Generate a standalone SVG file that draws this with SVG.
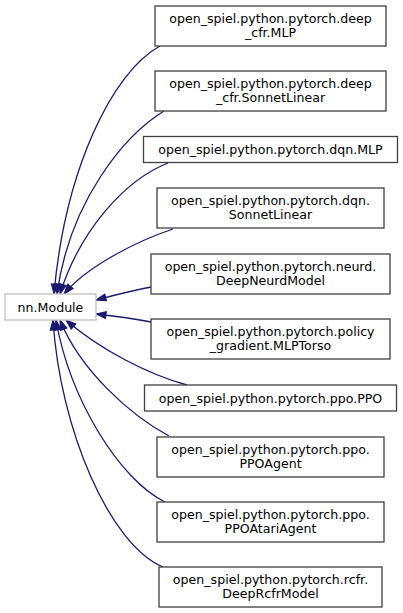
<svg xmlns="http://www.w3.org/2000/svg" width="403" height="613" viewBox="0 0 403 613">
<style>
.n rect{fill:#ffffff;stroke:#404040;stroke-width:1.3}
#nnModule rect{stroke:#bfbfbf}
text{font-family:"DejaVu Sans","Liberation Sans",sans-serif;font-size:12.6px;fill:#000000;text-anchor:middle}
#edges path{fill:none;stroke:#191970;stroke-width:1.3;marker-end:url(#ah)}
</style>
<defs>
<marker id="ah" markerUnits="userSpaceOnUse" markerWidth="12" markerHeight="9" refX="11" refY="4.5" orient="auto">
<path d="M1,1 L11,4.5 L1,8 z" fill="#191970" stroke="#191970" stroke-width="1"/>
</marker>
</defs>
<rect width="403" height="613" fill="#ffffff"/>
<g id="edges">
<path d="M160,46 C112,72 65,170 54,294"/>
<path d="M164,111 C125,135 70,200 57,294"/>
<path d="M168,163 C125,180 80,230 60,294"/>
<path d="M173,229 C140,240 88,265 64,294"/>
<path d="M151,287 C130,291 115,295 96,300"/>
<path d="M151,322 C130,318 115,316 96,314"/>
<path d="M187,385 C150,375 100,350 66,320"/>
<path d="M169,436 C130,415 80,370 60,320"/>
<path d="M165,502 C120,480 70,400 56,320"/>
<path d="M163,567 C110,545 60,430 53,320"/>
</g>
<g id="nnModule" class="n"><rect x="5" y="294" width="91" height="26"/><text x="50.5" y="311.5">nn.Module</text></g>
<g id="deepcfrMLP" class="n"><rect x="155" y="6" width="231" height="40"/><text x="270.5" y="22.5">open_spiel.python.pytorch.deep</text><text x="270.5" y="37">_cfr.MLP</text></g>
<g id="deepcfrSonnetLinear" class="n"><rect x="155" y="71" width="231" height="40"/><text x="270.5" y="87.5">open_spiel.python.pytorch.deep</text><text x="270.5" y="102">_cfr.SonnetLinear</text></g>
<g id="dqnMLP" class="n"><rect x="143.5" y="136.5" width="254" height="26"/><text x="270.5" y="154">open_spiel.python.pytorch.dqn.MLP</text></g>
<g id="dqnSonnetLinear" class="n"><rect x="157" y="188" width="227" height="40"/><text x="270.5" y="204.5">open_spiel.python.pytorch.dqn.</text><text x="270.5" y="219">SonnetLinear</text></g>
<g id="neurdDeepNeurdModel" class="n"><rect x="151" y="254" width="239" height="40"/><text x="270.5" y="270.5">open_spiel.python.pytorch.neurd.</text><text x="270.5" y="285">DeepNeurdModel</text></g>
<g id="policyMLPTorso" class="n"><rect x="151" y="319" width="239" height="40"/><text x="270.5" y="335.5">open_spiel.python.pytorch.policy</text><text x="270.5" y="350">_gradient.MLPTorso</text></g>
<g id="ppoPPO" class="n"><rect x="144.5" y="385" width="252" height="26"/><text x="270.5" y="402.5">open_spiel.python.pytorch.ppo.PPO</text></g>
<g id="ppoPPOAgent" class="n"><rect x="157" y="437" width="227" height="40"/><text x="270.5" y="453.5">open_spiel.python.pytorch.ppo.</text><text x="270.5" y="468">PPOAgent</text></g>
<g id="ppoPPOAtariAgent" class="n"><rect x="157" y="502" width="227" height="40"/><text x="270.5" y="518.5">open_spiel.python.pytorch.ppo.</text><text x="270.5" y="533">PPOAtariAgent</text></g>
<g id="rcfrDeepRcfrModel" class="n"><rect x="159" y="567" width="223" height="40"/><text x="270.5" y="583.5">open_spiel.python.pytorch.rcfr.</text><text x="270.5" y="598">DeepRcfrModel</text></g>
</svg>
